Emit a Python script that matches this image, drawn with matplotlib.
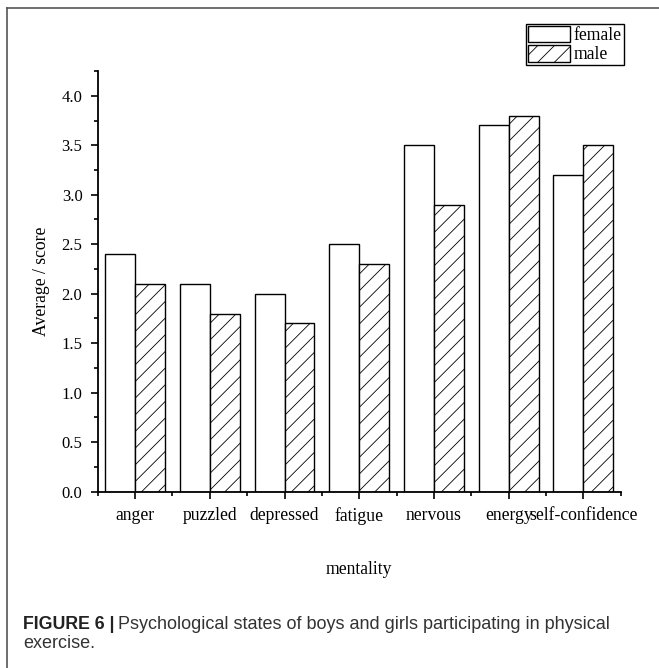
import numpy as np
import matplotlib
matplotlib.use("Agg")
import matplotlib.pyplot as plt
from matplotlib.lines import Line2D
from matplotlib.ticker import MultipleLocator

categories = ["anger", "puzzled", "depressed", "fatigue", "nervous", "energy", "self-confidence"]
female = [2.4, 2.1, 2.0, 2.5, 3.5, 3.7, 3.2]
male = [2.1, 1.8, 1.7, 2.3, 2.9, 3.8, 3.5]

plt.rcParams['font.family'] = ['Liberation Serif', 'DejaVu Serif']
plt.rcParams['hatch.linewidth'] = 0.6

fig = plt.figure(figsize=(6.59, 6.68), dpi=100)
ax = fig.add_axes([0.1483, 0.2639, 0.7936, 0.6298])

x = np.arange(len(categories))
w = 0.4
ax.bar(x - w / 2, female, w, facecolor='white', edgecolor='black', linewidth=1.0, label='female')
ax.bar(x + w / 2, male, w, facecolor='white', edgecolor='black', linewidth=1.0, hatch='//', label='male')

ax.set_xlim(-0.5, 6.5)
ax.set_ylim(0, 4.25)
ax.set_xticks(x)
ax.set_xticklabels(categories, fontsize=12.7)
ax.xaxis.set_minor_locator(MultipleLocator(1, offset=0.5))
ax.yaxis.set_major_locator(MultipleLocator(0.5))
ax.yaxis.set_minor_locator(MultipleLocator(0.25))
ax.yaxis.set_major_formatter(matplotlib.ticker.FormatStrFormatter('%.1f'))
ax.tick_params(axis='both', which='major', length=5, width=1.2)
ax.tick_params(axis='x', pad=6)
ax.tick_params(axis='y', labelsize=12, pad=6)
ax.tick_params(axis='both', which='minor', length=3, width=1.2)

for s in ['top', 'right']:
    ax.spines[s].set_visible(False)
for s in ['left', 'bottom']:
    ax.spines[s].set_linewidth(1.3)

ax.set_xlabel('mentality', fontsize=12.7)
ax.xaxis.set_label_coords(0.5, -0.165)
ax.set_ylabel('Average / score', fontsize=12.7)
ax.yaxis.set_label_coords(-0.092, 0.5)

leg = fig.legend(loc='upper right', bbox_to_anchor=(0.9469, 0.9641), fontsize=12.7,
                 frameon=True, fancybox=False, edgecolor='black', framealpha=1,
                 handlelength=2.4, handleheight=1.05, labelspacing=0.05,
                 borderpad=0.12, handletextpad=0.2, borderaxespad=0)
leg.get_frame().set_linewidth(1.0)

# outer frame (left and top edges)
fig.add_artist(Line2D([7 / 659, 7 / 659], [0, 1 - 8 / 668], color='#555555', lw=1.2))
fig.add_artist(Line2D([7 / 659, 1], [1 - 8 / 668, 1 - 8 / 668], color='#555555', lw=1.2))

# caption
cap_font = ['Liberation Sans', 'DejaVu Sans']
t1 = fig.text(23 / 659, 1 - 629 / 668, 'FIGURE 6 |', family=cap_font, fontweight='bold',
              fontsize=12.8, color='#222222', va='baseline')
fig.canvas.draw()
bb = t1.get_window_extent()
fig.text((bb.x1 + 4) / 659, 1 - 629 / 668,
         'Psychological states of boys and girls participating in physical',
         family=cap_font, fontsize=13, color='#333333', va='baseline')
fig.text(23 / 659, 1 - 648 / 668, 'exercise.', family=cap_font, fontsize=13,
         color='#333333', va='baseline')

fig.savefig('out.png', dpi=100)
